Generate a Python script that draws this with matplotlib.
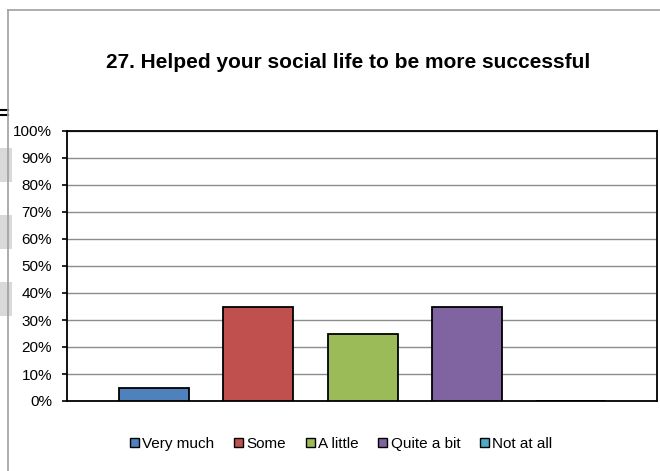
import matplotlib
matplotlib.use("Agg")
import matplotlib.pyplot as plt
from matplotlib.patches import Rectangle
from matplotlib.lines import Line2D
from matplotlib.ticker import MultipleLocator, PercentFormatter

plt.rcParams['font.family'] = ['Liberation Sans', 'DejaVu Sans']

title = "27. Helped your social life to be more successful"
categories = ["Very much", "Some", "A little", "Quite a bit", "Not at all"]
values = [0.05, 0.35, 0.25, 0.35, 0.0]
colors = ["#4f81bd", "#c0504d", "#9bbb59", "#8064a2", "#4bacc6"]

W, H = 660, 471
fig = plt.figure(figsize=(W / 100, H / 100), dpi=100)

def fx(px):
    return px / W

def fy(py):
    return 1 - py / H

# background spreadsheet artifacts at left edge
for y0, y1 in [(148, 182), (215, 249), (282, 316)]:
    fig.patches.append(Rectangle((0, fy(y1)), fx(12), fy(y0) - fy(y1),
                                 transform=fig.transFigure, facecolor="#d9d9d9",
                                 edgecolor="none", zorder=0))
fig.lines.append(Line2D([0, fx(8)], [fy(110), fy(110)], transform=fig.transFigure, color="black", lw=1.5))
fig.lines.append(Line2D([0, fx(8)], [fy(115), fy(115)], transform=fig.transFigure, color="black", lw=1.5))

# chart border
fig.lines.append(Line2D([fx(8), fx(8)], [0, fy(10)], transform=fig.transFigure, color="#a0a0a0", lw=1.2))
fig.lines.append(Line2D([fx(8), 1], [fy(10), fy(10)], transform=fig.transFigure, color="#a0a0a0", lw=1.2))

ax = fig.add_axes([fx(67), fy(401), fx(657) - fx(67), fy(131) - fy(401)])
x = list(range(len(categories)))
bars = ax.bar(x, values, width=0.67, color=colors, edgecolor="black", linewidth=1.3,
              label=categories, zorder=3)
ax.set_xlim(-0.83, 4.82)
ax.set_ylim(0, 1)
ax.yaxis.set_major_locator(MultipleLocator(0.1))
ax.yaxis.set_major_formatter(PercentFormatter(1.0, decimals=0))
ax.grid(axis="y", color="#8c8c8c", linewidth=1.0, zorder=0)
ax.set_xticks([])
for s in ax.spines.values():
    s.set_color("black")
    s.set_linewidth(1.3)
ax.tick_params(axis="y", direction="out", length=3.8, width=1.2, color="black",
               labelsize=11, pad=7)

fig.text(fx(348), fy(68), title, ha="center", va="baseline", fontsize=15, fontweight="bold")

handles = [Rectangle((0, 0), 1, 1, facecolor=c, edgecolor="black", linewidth=1.0) for c in colors]
fig.legend(handles, categories, loc="center", bbox_to_anchor=(fx(341), fy(444)), ncol=5,
           frameon=False, fontsize=11, handlelength=0.6, handleheight=0.6,
           handletextpad=0.2, columnspacing=1.3, borderpad=0, borderaxespad=0)

fig.savefig("out.png", dpi=100)
